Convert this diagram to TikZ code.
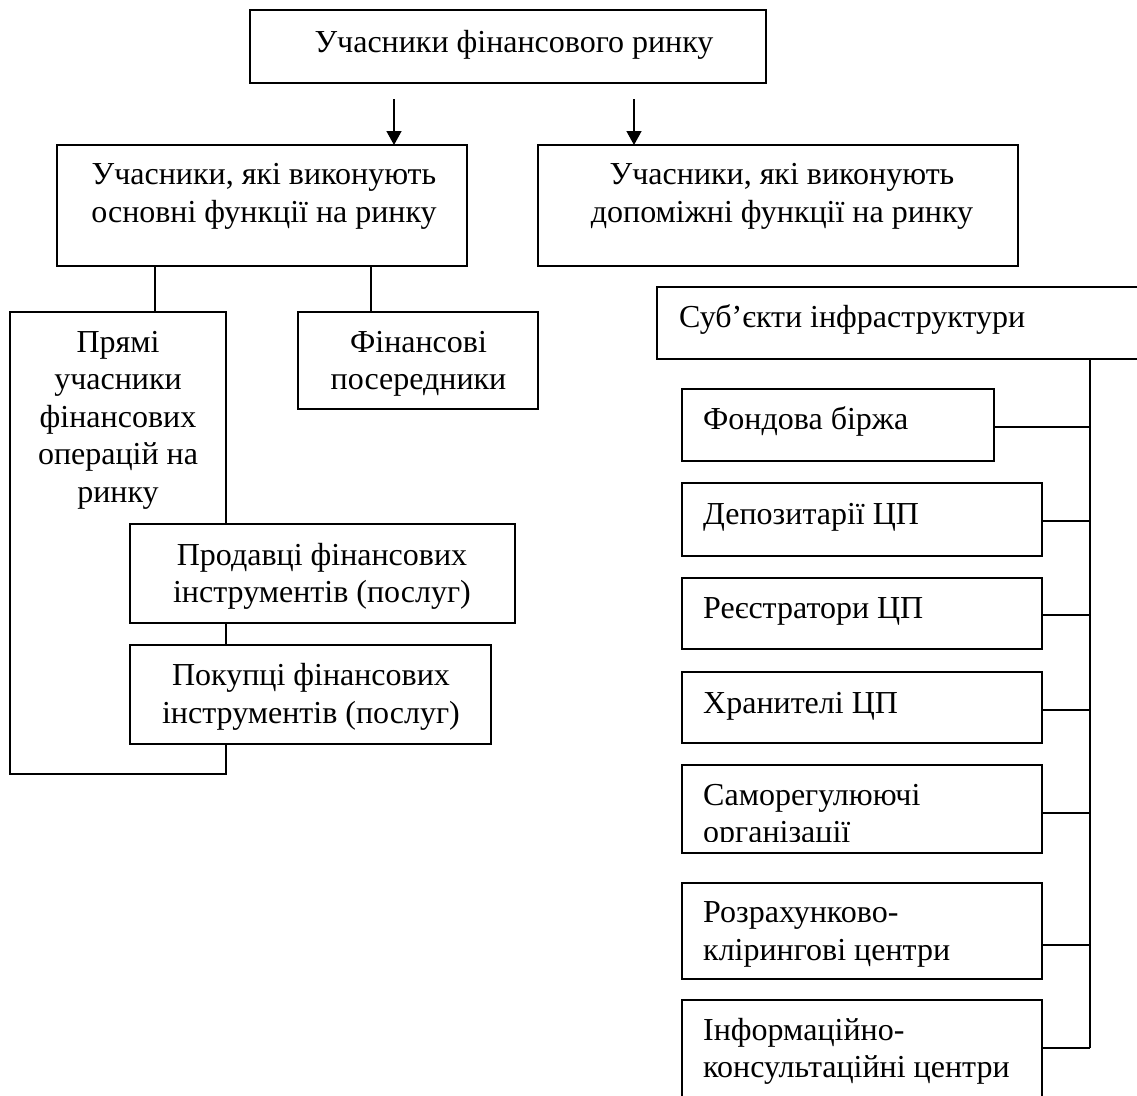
\documentclass[tikz,border=0pt]{standalone}
\usepackage{fontspec}
\setmainfont{Liberation Serif}
\usetikzlibrary{arrows.meta}
\newcommand{\ms}{\rule[-8pt]{0pt}{32pt}}
\begin{document}
\begin{tikzpicture}[x=1pt,y=-1pt,
  box/.style={draw, line width=1.5pt, fill=white, inner sep=0pt, outer sep=0pt, rectangle},
  txt/.style={font=\fontsize{32}{37.5}\selectfont, align=center, inner sep=0pt, anchor=center},
  ltxt/.style={font=\fontsize{32}{37.5}\selectfont, align=left, inner sep=0pt, anchor=west},
  conn/.style={line width=1.5pt},
  arr/.style={line width=1.5pt, -{Triangle[length=14pt,width=15pt]}}]
\useasboundingbox (0,0) rectangle (1137,1095);
\clip (0,0) rectangle (1137,1095);
\fill[white] (0,0) rectangle (1137,1095);

% top level
\node[box, minimum width=516pt, minimum height=73pt] (top) at (508,46.5) {};
\node[txt] (topT) at (514,44) {\ms Учасники фінансового ринку};

% second level
\node[box, minimum width=410pt, minimum height=121pt] (midL) at (262,205.5) {};
\node[txt] (midLT) at (264,195.5) {\ms Учасники, які виконують\\\ms основні функції на ринку};
\node[box, minimum width=480pt, minimum height=121pt] (midR) at (778,205.5) {};
\node[txt] (midRT) at (782,195.5) {\ms Учасники, які виконують\\\ms допоміжні функції на ринку};

\coordinate (a1) at (394,99);
\coordinate (a2) at (634,99);
\draw[arr] (a1) -- (a1 |- midL.north);
\draw[arr] (a2) -- (a2 |- midR.north);

% left branch
\node[box, minimum width=216pt, minimum height=462pt] (pry) at (118,543) {};
\node[txt] (pryT) at (118,419) {\ms Прямі\\\ms учасники\\\ms фінансових\\\ms операцій на\\\ms ринку};
\node[box, minimum width=240pt, minimum height=97pt] (fin) at (418,360.5) {};
\node[txt] (finT) at (418.5,363) {\ms Фінансові\\\ms посередники};

\coordinate (b1) at (155,266);
\coordinate (b2) at (371,266);
\draw[conn] (b1) -- (b1 |- pry.north);
\draw[conn] (b2) -- (b2 |- fin.north);

\node[box, minimum width=385pt, minimum height=99pt] (sell) at (322.5,573.5) {};
\node[txt] (sellT) at (322,576) {\ms Продавці фінансових\\\ms інструментів (послуг)};
\node[box, minimum width=361pt, minimum height=99pt] (buy) at (310.5,694.5) {};
\node[txt] (buyT) at (311,696.5) {\ms Покупці фінансових\\\ms інструментів (послуг)};

% right branch
\node[box, minimum width=503pt, minimum height=72pt] (subj) at (908.5,323) {};
\node[ltxt] (subjT) at (679,319) {\ms Суб’єкти інфраструктури};

\node[box, minimum width=312pt, minimum height=72pt] (fond) at (838,425) {};
\node[ltxt] (fondT) at (703,421) {\ms Фондова біржа};
\node[box, minimum width=360pt, minimum height=73pt] (dep) at (862,519.5) {};
\node[ltxt] (depT) at (703,516) {\ms Депозитарії ЦП};
\node[box, minimum width=360pt, minimum height=71pt] (reg) at (862,613.5) {};
\node[ltxt] (regT) at (703,610) {\ms Реєстратори ЦП};
\node[box, minimum width=360pt, minimum height=71pt] (cust) at (862,707.5) {};
\node[ltxt] (custT) at (703,705) {\ms Хранителі ЦП};
\node[box, minimum width=360pt, minimum height=88pt] (sro) at (862,809) {};
\begin{scope}
  \clip (682,765) rectangle (1042,841);
  \node[ltxt] (sroT) at (703,816) {\ms Саморегулюючі\\\ms організації};
\end{scope}
\node[box, minimum width=360pt, minimum height=96pt] (clear) at (862,931) {};
\node[ltxt] (clearT) at (703,933.5) {\ms Розрахунково-\\\ms клірингові центри};
\node[box, minimum width=360pt, minimum height=120pt] (info) at (862,1060) {};
\node[ltxt] (infoT) at (703,1051) {\ms Інформаційно-\\\ms консультаційні центри};

\coordinate (jFond) at (1090,427);
\coordinate (jDep) at (1090,521);
\coordinate (jReg) at (1090,615);
\coordinate (jCust) at (1090,710);
\coordinate (jSro) at (1090,813);
\coordinate (jClear) at (1090,945);
\coordinate (jInfo) at (1090,1048);

\draw[conn] (subj.south -| jFond) -- (jInfo);
\draw[conn] (fond.east |- jFond) -- (jFond);
\draw[conn] (dep.east |- jDep) -- (jDep);
\draw[conn] (reg.east |- jReg) -- (jReg);
\draw[conn] (cust.east |- jCust) -- (jCust);
\draw[conn] (sro.east |- jSro) -- (jSro);
\draw[conn] (clear.east |- jClear) -- (jClear);
\draw[conn] (info.east |- jInfo) -- (jInfo);
\end{tikzpicture}
\end{document}
